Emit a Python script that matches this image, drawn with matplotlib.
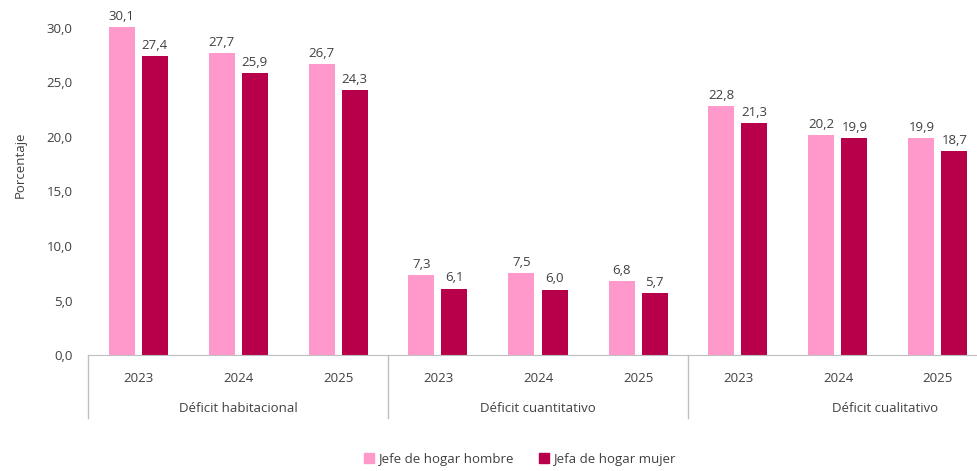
import matplotlib.pyplot as plt
from matplotlib.transforms import blended_transform_factory
from matplotlib.patches import Patch

plt.rcParams['font.family'] = ['Open Sans', 'DejaVu Sans']

years = ['2023', '2024', '2025']
groups = ['Déficit habitacional', 'Déficit cuantitativo', 'Déficit cualitativo']
hombre = [30.1, 27.7, 26.7, 7.3, 7.5, 6.8, 22.8, 20.2, 19.9]
mujer = [27.4, 25.9, 24.3, 6.1, 6.0, 5.7, 21.3, 19.9, 18.7]
yticks = [0, 5, 10, 15, 20, 25, 30]

c_h = '#FF99CC'
c_m = '#B8004A'

def fmt(v):
    return f'{v:.1f}'.replace('.', ',')

fig = plt.figure(figsize=(9.77, 4.71), dpi=100)
# axes extends a bit past the right edge and top, like the cropped original
ax = fig.add_axes([88/977, 116/471, 900/977, 381.5/471])

x = list(range(len(hombre)))
w = 0.26
off = 0.165
b1 = ax.bar([i - off for i in x], hombre, w, color=c_h)
b2 = ax.bar([i + off for i in x], mujer, w, color=c_m)

for bars, vals in ((b1, hombre), (b2, mujer)):
    for b, v in zip(bars, vals):
        ax.annotate(fmt(v), (b.get_x() + b.get_width()/2, v), xytext=(0, 3),
                    textcoords='offset points', ha='center', va='bottom',
                    fontsize=9.5, color='#404040')

ax.set_xlim(-0.5, 8.5)
ax.set_ylim(0, 35)
ax.set_yticks(yticks)
ax.set_yticklabels([fmt(t) for t in yticks], fontsize=9.5, color='#404040')
ax.tick_params(axis='y', length=0, pad=11)
ax.set_xticks([])
for s in ['top', 'right', 'left']:
    ax.spines[s].set_visible(False)
ax.spines['bottom'].set_color('#BFBFBF')
ax.set_ylabel('Porcentaje', fontsize=9.5, color='#404040', labelpad=14)

# multi-level category axis
def ay(px):
    return -px / 381.5
tr = blended_transform_factory(ax.transData, ax.transAxes)
for b in [-0.5, 2.5, 5.5, 8.5]:
    ax.plot([b, b], [0, ay(63)], transform=tr, color='#BFBFBF', lw=1, clip_on=False)
for i in x:
    ax.text(i, ay(23), years[i % 3], transform=tr, ha='center', va='center',
            fontsize=9.5, color='#404040')
gx = [1, 4, 7.47]
for g, name in enumerate(groups):
    ax.text(gx[g], ay(53), name, transform=tr, ha='center', va='center',
            fontsize=9.5, color='#404040')

handles = [Patch(color=c_h, label='Jefe de hogar hombre'),
           Patch(color=c_m, label='Jefa de hogar mujer')]
fig.legend(handles=handles, loc='lower center', bbox_to_anchor=(0.532, -0.014),
           ncol=2, frameon=False, fontsize=9.5, handlelength=0.7, handleheight=0.7,
           handletextpad=0.3, columnspacing=2.0, labelcolor='#404040')

fig.savefig('out.png', dpi=100)
